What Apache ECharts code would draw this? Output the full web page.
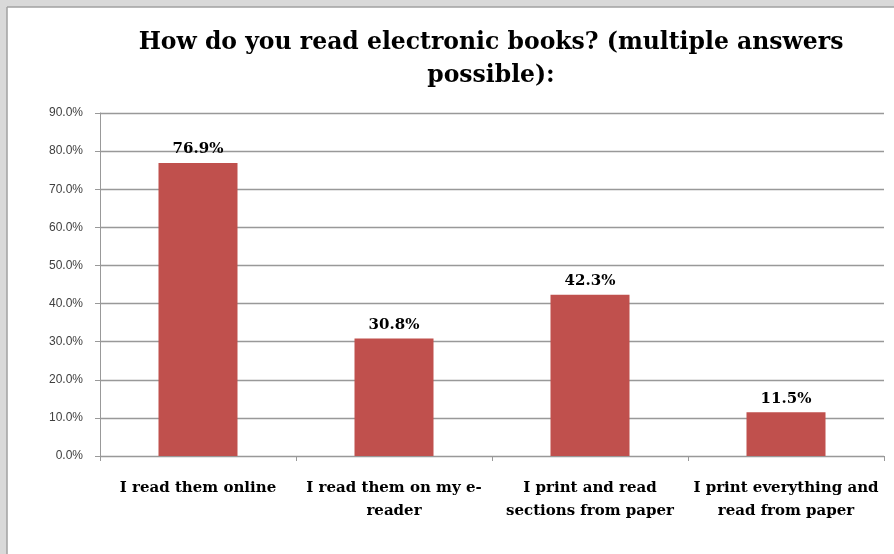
<!DOCTYPE html>
<html><head><meta charset="utf-8">
<script src="https://cdn.jsdelivr.net/npm/echarts@6/dist/echarts.min.js"></script>
<style>html,body{margin:0;padding:0;background:#fff}#c{width:894px;height:554px}</style>
</head><body><div id="c"></div>
<script>
const categories = ["I read them online", "I read them on my e-\nreader", "I print and read\nsections from paper", "I print everything and\nread from paper"];
const values = [76.9, 30.8, 42.3, 11.5];
const titleText = "How do you read electronic books? (multiple answers\npossible):";

const chart = echarts.init(document.getElementById('c'), null, {renderer: 'canvas'});
chart.setOption({
  backgroundColor: '#ffffff',
  animation: false,
  graphic: [
    {type: 'rect', shape: {x: 0, y: 0, width: 894, height: 7}, style: {fill: '#d9d9d9'}, z: -1},
    {type: 'rect', shape: {x: 0, y: 0, width: 7, height: 554}, style: {fill: '#d9d9d9'}, z: -1},
    {type: 'line', shape: {x1: 7, y1: 7, x2: 894, y2: 7}, style: {stroke: '#a0a0a0', lineWidth: 1.5}},
    {type: 'line', shape: {x1: 7, y1: 7, x2: 7, y2: 554}, style: {stroke: '#a0a0a0', lineWidth: 1.5}}
  ],
  title: {
    text: titleText,
    left: 486, top: 21, textAlign: 'center',
    textStyle: {fontFamily: 'DejaVu Serif', fontWeight: 'bold', fontSize: 23.5, lineHeight: 33, color: '#000'}
  },
  grid: {left: 100, right: 10, top: 113, bottom: 98, containLabel: false},
  xAxis: {
    type: 'category', data: categories,
    axisLine: {lineStyle: {color: '#999', width: 1}},
    axisTick: {show: true, length: 5, lineStyle: {color: '#999'}},
    axisLabel: {fontFamily: 'DejaVu Serif', fontWeight: 'bold', fontSize: 15, lineHeight: 23, color: '#000', margin: 21, interval: 0}
  },
  yAxis: {
    type: 'value', min: 0, max: 90, interval: 10,
    axisLine: {show: true, lineStyle: {color: '#999'}},
    axisTick: {show: true, length: 5, lineStyle: {color: '#999'}},
    splitLine: {lineStyle: {color: '#999', width: 1.3}},
    axisLabel: {formatter: v => v.toFixed(1) + '%', fontFamily: 'Liberation Sans', fontSize: 12, color: '#404040', margin: 17}
  },
  series: [{
    type: 'bar', data: values, barWidth: 79,
    itemStyle: {color: '#C0504D'},
    label: {show: true, position: 'top', distance: 6, formatter: p => p.value.toFixed(1) + '%',
      fontFamily: 'DejaVu Serif', fontWeight: 'bold', fontSize: 15, color: '#000'}
  }]
});
</script></body></html>
